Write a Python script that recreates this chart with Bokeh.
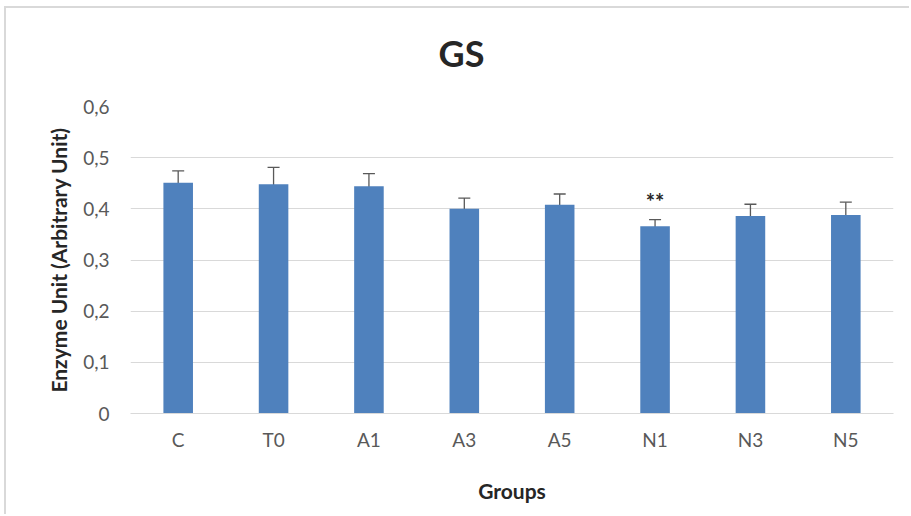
from bokeh.plotting import figure
from bokeh.models import ColumnDataSource, Whisker, TeeHead, FixedTicker, Range1d, Title
from bokeh.core.properties import value
from bokeh.embed import file_html
from bokeh.resources import INLINE

# GS enzyme activity per group (mean and error)
groups = ["C", "T0", "A1", "A3", "A5", "N1", "N3", "N5"]
means = [0.451, 0.448, 0.444, 0.400, 0.408, 0.366, 0.386, 0.388]
errors = [0.023, 0.033, 0.025, 0.021, 0.021, 0.013, 0.023, 0.025]
marks = ["", "", "", "", "", "**", "", ""]
y_ticks = [0.0, 0.1, 0.2, 0.3, 0.4, 0.5, 0.6]
y_tick_labels = ["0", "0,1", "0,2", "0,3", "0,4", "0,5", "0,6"]
title_text = "GS"

upper = [m + e for m, e in zip(means, errors)]
lower = [m - e for m, e in zip(means, errors)]
src = ColumnDataSource(dict(g=groups, m=means, up=upper, lo=lower, mark=marks))

FONT = "Lato"
GRAY = "#595959"
GRID = "#d9d9d9"

p = figure(x_range=groups, width=905, height=508, output_backend="svg",
           toolbar_location=None,
           min_border_left=124, min_border_right=18,
           min_border_top=98, min_border_bottom=103)
p.title_location = None
p.styles = {"margin-left": "4px", "margin-top": "6px",
            "border-left": "2px solid #d9d9d9", "border-top": "2px solid #d9d9d9"}
p.y_range = Range1d(0, 0.6)
p.outline_line_color = None

# empty spacer panel between the frame and the title
p.add_layout(Title(text=" ", text_font_size="1px", standoff=29), "above")
p.add_layout(Title(text=title_text, align="left", offset=308, standoff=0,
                   text_font=FONT, text_font_size="36px", text_font_style="bold",
                   text_color="#262626"), "above")

p.vbar(x="g", top="m", width=0.31, source=src, fill_color="#4f81bd", line_color=None)

w = Whisker(base="g", upper="up", lower="lo", source=src, line_color=GRAY, line_width=1.3)
w.upper_head = TeeHead(size=12, line_color=GRAY, line_width=1.3)
w.lower_head = TeeHead(size=12, line_color=GRAY, line_width=1.3)
p.add_layout(w)

p.text(x="g", y="up", text="mark", source=src, text_align="center",
       text_baseline="bottom", y_offset=-5, text_font=value(FONT),
       text_font_size="22px", text_color="#262626", text_font_style="bold")

# axes
p.yaxis.ticker = FixedTicker(ticks=y_ticks)
p.yaxis.major_label_overrides = {t: l for t, l in zip(y_ticks, y_tick_labels)}
for ax in (p.xaxis, p.yaxis):
    ax.major_tick_line_color = None
    ax.minor_tick_line_color = None
    ax.major_label_text_font = FONT
    ax.major_label_text_font_size = "19px"
    ax.major_label_text_color = GRAY
    ax.axis_label_text_font = FONT
    ax.axis_label_text_font_size = "21px"
    ax.axis_label_text_font_style = "bold"
    ax.axis_label_text_color = "#262626"
p.yaxis.axis_line_color = None
p.xaxis.axis_line_color = GRID
p.yaxis.major_label_standoff = 15
p.xaxis.major_label_standoff = 8
p.yaxis.axis_label = "Enzyme Unit (Arbitrary Unit)"
p.xaxis.axis_label = "Groups"
p.yaxis.axis_label_standoff = 9
p.xaxis.axis_label_standoff = 24

p.xgrid.grid_line_color = None
p.ygrid.grid_line_color = GRID
p.ygrid.grid_line_width = 1

open("out.html", "w").write(file_html(p, INLINE))
